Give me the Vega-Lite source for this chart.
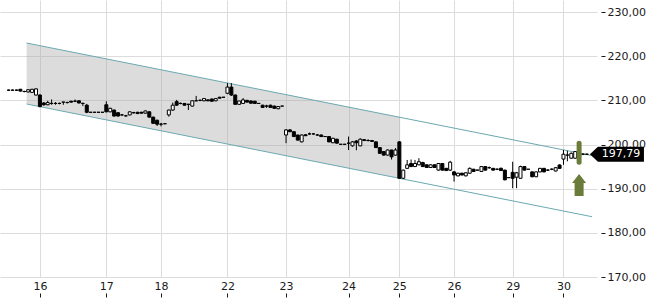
{
  "$schema": "https://vega.github.io/schema/vega-lite/v6.json",
  "width": 597,
  "height": 277,
  "autosize": {"type": "none"},
  "padding": {"left": 0, "top": 0, "right": 53, "bottom": 23},
  "background": "white",
  "config": {"view": {"stroke": null}, "font": "DejaVu Sans"},
  "datasets": {
    "candles": [
      {"i":0,"o":212.3,"h":212.45,"l":212.15,"c":212.3},
      {"i":1,"o":212.3,"h":212.45,"l":212.15,"c":212.3},
      {"i":2,"o":212.3,"h":212.45,"l":212.15,"c":212.3},
      {"i":3,"o":212.5,"h":212.6,"l":212.0,"c":212.1},
      {"i":4,"o":212.0,"h":212.2,"l":211.8,"c":212.0},
      {"i":5,"o":211.9,"h":212.5,"l":211.8,"c":212.4},
      {"i":6,"o":211.8,"h":212.6,"l":211.7,"c":212.5},
      {"i":7,"o":211.2,"h":212.7,"l":211.1,"c":212.6},
      {"i":8,"o":211.2,"h":211.4,"l":208.4,"c":208.6},
      {"i":9,"o":209.4,"h":209.6,"l":208.8,"c":209.0},
      {"i":10,"o":209.0,"h":209.9,"l":208.9,"c":209.5},
      {"i":11,"o":209.3,"h":210.2,"l":209.0,"c":209.3},
      {"i":12,"o":209.3,"h":209.6,"l":209.0,"c":209.3},
      {"i":13,"o":209.3,"h":209.5,"l":209.1,"c":209.3},
      {"i":14,"o":209.6,"h":209.6,"l":209.0,"c":209.6},
      {"i":15,"o":209.5,"h":209.7,"l":209.3,"c":209.5},
      {"i":16,"o":209.8,"h":209.9,"l":209.5,"c":209.6},
      {"i":17,"o":209.8,"h":210.2,"l":209.6,"c":209.8},
      {"i":18,"o":209.9,"h":210.0,"l":209.3,"c":209.4},
      {"i":19,"o":209.3,"h":209.5,"l":208.7,"c":209.3},
      {"i":20,"o":208.9,"h":209.2,"l":207.1,"c":207.3},
      {"i":21,"o":207.3,"h":207.3,"l":207.3,"c":207.3},
      {"i":22,"o":207.3,"h":207.3,"l":207.3,"c":207.3},
      {"i":23,"o":207.3,"h":207.3,"l":207.3,"c":207.3},
      {"i":24,"o":207.3,"h":207.3,"l":207.3,"c":207.3},
      {"i":25,"o":209.0,"h":209.8,"l":207.3,"c":207.4},
      {"i":26,"o":207.4,"h":208.3,"l":207.3,"c":208.2},
      {"i":27,"o":207.8,"h":207.9,"l":206.3,"c":206.45},
      {"i":28,"o":207.2,"h":207.3,"l":206.3,"c":206.45},
      {"i":29,"o":206.7,"h":206.9,"l":206.5,"c":206.7},
      {"i":30,"o":206.5,"h":206.7,"l":206.3,"c":206.5},
      {"i":31,"o":206.7,"h":207.5,"l":206.6,"c":207.4},
      {"i":32,"o":207.2,"h":207.4,"l":207.0,"c":207.2},
      {"i":33,"o":207.3,"h":207.4,"l":206.9,"c":207.0},
      {"i":34,"o":207.3,"h":207.4,"l":207.0,"c":207.1},
      {"i":35,"o":207.1,"h":207.7,"l":207.0,"c":207.6},
      {"i":36,"o":207.4,"h":207.5,"l":206.1,"c":206.2},
      {"i":37,"o":206.2,"h":206.3,"l":204.7,"c":204.8},
      {"i":38,"o":205.5,"h":205.6,"l":204.2,"c":204.6},
      {"i":39,"o":204.6,"h":204.9,"l":204.1,"c":204.6},
      {"i":40,"o":204.7,"h":204.7,"l":204.7,"c":204.7},
      {"i":41,"o":206.7,"h":207.9,"l":206.3,"c":207.8},
      {"i":42,"o":207.8,"h":209.5,"l":207.6,"c":208.9},
      {"i":43,"o":209.7,"h":210.1,"l":208.8,"c":208.9},
      {"i":44,"o":209.3,"h":209.5,"l":209.1,"c":209.3},
      {"i":45,"o":209.3,"h":209.4,"l":208.8,"c":208.9},
      {"i":46,"o":209.1,"h":209.2,"l":207.8,"c":209.1},
      {"i":47,"o":208.7,"h":210.0,"l":208.6,"c":209.9},
      {"i":48,"o":209.9,"h":211.0,"l":209.8,"c":209.9},
      {"i":49,"o":210.0,"h":210.2,"l":209.8,"c":210.0},
      {"i":50,"o":209.9,"h":210.5,"l":209.8,"c":210.4},
      {"i":51,"o":210.1,"h":210.2,"l":209.8,"c":209.9},
      {"i":52,"o":210.3,"h":210.4,"l":209.7,"c":209.8},
      {"i":53,"o":209.9,"h":210.5,"l":209.8,"c":210.4},
      {"i":54,"o":210.7,"h":210.8,"l":210.4,"c":210.5},
      {"i":55,"o":210.7,"h":210.7,"l":210.7,"c":210.7},
      {"i":56,"o":211.6,"h":213.9,"l":211.4,"c":213.0},
      {"i":57,"o":213.0,"h":213.9,"l":211.0,"c":211.2},
      {"i":58,"o":211.2,"h":211.3,"l":209.0,"c":209.1},
      {"i":59,"o":209.1,"h":209.9,"l":209.0,"c":209.85},
      {"i":60,"o":209.3,"h":210.5,"l":209.2,"c":210.1},
      {"i":61,"o":210.0,"h":210.1,"l":209.5,"c":209.6},
      {"i":62,"o":209.85,"h":210.0,"l":209.3,"c":209.35},
      {"i":63,"o":209.8,"h":209.9,"l":209.2,"c":209.3},
      {"i":64,"o":209.3,"h":209.3,"l":209.3,"c":209.3},
      {"i":65,"o":208.9,"h":209.0,"l":208.3,"c":208.4},
      {"i":66,"o":208.7,"h":209.0,"l":208.3,"c":208.7},
      {"i":67,"o":208.9,"h":209.0,"l":208.3,"c":208.4},
      {"i":68,"o":208.7,"h":208.8,"l":208.1,"c":208.2},
      {"i":69,"o":208.1,"h":208.7,"l":208.0,"c":208.6},
      {"i":70,"o":208.7,"h":208.7,"l":208.7,"c":208.7},
      {"i":71,"o":202.15,"h":203.5,"l":200.3,"c":203.3},
      {"i":72,"o":203.3,"h":203.5,"l":202.8,"c":202.9},
      {"i":73,"o":202.9,"h":203.0,"l":201.7,"c":201.8},
      {"i":74,"o":202.15,"h":202.2,"l":200.9,"c":201.0},
      {"i":75,"o":200.6,"h":202.3,"l":200.5,"c":202.15},
      {"i":76,"o":202.2,"h":202.3,"l":201.9,"c":202.0},
      {"i":77,"o":202.4,"h":202.7,"l":202.2,"c":202.4},
      {"i":78,"o":202.4,"h":202.6,"l":202.2,"c":202.4},
      {"i":79,"o":202.15,"h":202.4,"l":202.0,"c":202.15},
      {"i":80,"o":202.15,"h":202.3,"l":201.7,"c":201.8},
      {"i":81,"o":201.8,"h":201.8,"l":201.8,"c":201.8},
      {"i":82,"o":201.8,"h":201.9,"l":200.5,"c":200.6},
      {"i":83,"o":200.4,"h":201.5,"l":200.3,"c":201.4},
      {"i":84,"o":201.2,"h":201.3,"l":200.2,"c":200.3},
      {"i":85,"o":200.05,"h":200.05,"l":200.05,"c":200.05},
      {"i":86,"o":200.05,"h":200.05,"l":200.05,"c":200.05},
      {"i":87,"o":200.3,"h":201.8,"l":198.75,"c":200.3},
      {"i":88,"o":199.7,"h":200.8,"l":199.5,"c":200.6},
      {"i":89,"o":200.8,"h":201.0,"l":198.7,"c":200.4},
      {"i":90,"o":199.7,"h":201.4,"l":199.6,"c":201.2},
      {"i":91,"o":201.1,"h":201.2,"l":200.8,"c":200.9},
      {"i":92,"o":200.9,"h":201.2,"l":200.7,"c":200.9},
      {"i":93,"o":200.9,"h":201.0,"l":200.6,"c":200.7},
      {"i":94,"o":200.6,"h":200.7,"l":199.2,"c":199.3},
      {"i":95,"o":199.3,"h":199.4,"l":197.9,"c":198.0},
      {"i":96,"o":198.4,"h":198.5,"l":197.5,"c":197.6},
      {"i":97,"o":197.6,"h":198.9,"l":197.5,"c":198.75},
      {"i":98,"o":198.75,"h":198.8,"l":196.6,"c":197.2},
      {"i":99,"o":197.6,"h":199.2,"l":197.5,"c":198.75},
      {"i":100,"o":200.6,"h":200.7,"l":192.3,"c":192.35},
      {"i":101,"o":192.35,"h":194.3,"l":192.2,"c":194.2},
      {"i":102,"o":194.6,"h":196.5,"l":194.5,"c":195.4},
      {"i":103,"o":195.7,"h":196.6,"l":194.9,"c":195.0},
      {"i":104,"o":195.0,"h":196.5,"l":194.9,"c":195.7},
      {"i":105,"o":195.4,"h":196.9,"l":195.3,"c":196.1},
      {"i":106,"o":195.9,"h":196.1,"l":194.9,"c":195.0},
      {"i":107,"o":195.4,"h":195.5,"l":194.7,"c":194.8},
      {"i":108,"o":194.8,"h":195.5,"l":194.7,"c":195.4},
      {"i":109,"o":195.4,"h":195.5,"l":194.7,"c":194.8},
      {"i":110,"o":194.2,"h":195.8,"l":194.1,"c":195.7},
      {"i":111,"o":195.7,"h":195.8,"l":194.1,"c":194.2},
      {"i":112,"o":194.6,"h":194.7,"l":194.0,"c":194.1},
      {"i":113,"o":194.2,"h":196.3,"l":194.0,"c":196.0},
      {"i":114,"o":193.8,"h":194.0,"l":191.6,"c":193.1},
      {"i":115,"o":192.9,"h":193.6,"l":192.8,"c":193.5},
      {"i":116,"o":193.5,"h":193.6,"l":193.0,"c":193.1},
      {"i":117,"o":192.9,"h":193.7,"l":192.8,"c":193.6},
      {"i":118,"o":193.5,"h":194.8,"l":193.4,"c":194.6},
      {"i":119,"o":194.4,"h":194.5,"l":193.8,"c":193.9},
      {"i":120,"o":194.2,"h":194.2,"l":194.2,"c":194.2},
      {"i":121,"o":193.9,"h":195.1,"l":193.8,"c":195.0},
      {"i":122,"o":195.0,"h":195.1,"l":194.1,"c":194.2},
      {"i":123,"o":194.75,"h":195.0,"l":194.5,"c":194.75},
      {"i":124,"o":194.6,"h":194.7,"l":194.1,"c":194.2},
      {"i":125,"o":194.4,"h":194.6,"l":194.2,"c":194.4},
      {"i":126,"o":194.6,"h":194.8,"l":194.0,"c":194.1},
      {"i":127,"o":194.2,"h":194.3,"l":191.9,"c":192.0},
      {"i":128,"o":192.5,"h":192.5,"l":192.5,"c":192.5},
      {"i":129,"o":193.7,"h":196.1,"l":190.1,"c":192.35},
      {"i":130,"o":192.6,"h":193.8,"l":190.1,"c":193.6},
      {"i":131,"o":192.35,"h":195.2,"l":192.3,"c":195.0},
      {"i":132,"o":195.0,"h":195.1,"l":194.1,"c":194.2},
      {"i":133,"o":194.4,"h":194.4,"l":194.4,"c":194.4},
      {"i":134,"o":193.8,"h":193.9,"l":192.6,"c":192.7},
      {"i":135,"o":192.7,"h":193.9,"l":192.6,"c":193.8},
      {"i":136,"o":193.8,"h":194.7,"l":193.7,"c":194.6},
      {"i":137,"o":194.6,"h":194.7,"l":193.7,"c":193.8},
      {"i":138,"o":194.2,"h":194.4,"l":194.0,"c":194.2},
      {"i":139,"o":194.4,"h":194.6,"l":194.2,"c":194.4},
      {"i":140,"o":194.0,"h":194.9,"l":193.9,"c":194.75},
      {"i":141,"o":195.36,"h":195.5,"l":194.5,"c":194.6},
      {"i":142,"o":196.7,"h":198.75,"l":195.4,"c":197.8},
      {"i":143,"o":197.6,"h":198.6,"l":196.2,"c":197.6},
      {"i":144,"o":196.9,"h":198.2,"l":196.8,"c":198.0},
      {"i":145,"o":196.9,"h":198.5,"l":196.8,"c":198.4},
      {"i":146,"o":197.2,"h":198.2,"l":197.0,"c":198.0},
      {"i":147,"o":197.8,"h":198.0,"l":197.6,"c":197.8},
      {"i":148,"o":197.79,"h":198.0,"l":197.6,"c":197.79}
    ],
    "channel": [
      {"i":4.6,"up":222.98,"lo":209.17},
      {"i":149.3,"up":197.5,"lo":183.65}
    ],
    "band": [
      {"i":4.6,"up":222.98,"lo":209.17},
      {"i":100.2,"up":206.15,"lo":192.31}
    ],
    "signal": [
      {"i":146,"top":200.3,"bottom":196.0,"arrow":190.83}
    ],
    "last": [
      {"i":148,"price":197.79,"label":"197,79"}
    ]
  },
  "encoding": {
    "x": {
      "type": "quantitative",
      "scale": {"domain": [-0.93, 149.3], "nice": false, "zero": false},
      "axis": {
        "orient": "bottom",
        "title": null,
        "values": [8, 25, 39, 56, 71, 87, 100, 114, 129, 142],
        "labelExpr": "['16','17','18','22','23','24','25','26','29','30'][indexof([8,25,39,56,71,87,100,114,129,142], datum.value)]",
        "domain": false,
        "offset": 16,
        "tickSize": 4,
        "tickColor": "#1a1a1a",
        "labelPadding": -17,
        "labelFontSize": 11,
        "labelColor": "#1a1a1a",
        "grid": true,
        "gridColor": "#dcdcdc",
        "labelFlush": false
      }
    },
    "y": {
      "type": "quantitative",
      "scale": {"domain": [170, 232.72], "nice": false, "zero": false},
      "axis": {
        "orient": "right",
        "title": null,
        "values": [170, 180, 190, 200, 210, 220, 230],
        "labelExpr": "replace(format(datum.value, '.2f'), '.', ',')",
        "domain": false,
        "offset": 4,
        "tickSize": 4,
        "tickColor": "#1a1a1a",
        "labelPadding": 2,
        "labelFontSize": 11,
        "labelColor": "#1a1a1a",
        "grid": true,
        "gridColor": "#dcdcdc"
      }
    }
  },
  "layer": [
    {
      "data": {"name": "band"},
      "mark": {"type": "area", "color": "#a8a8a8", "opacity": 0.4},
      "encoding": {"x": {"field": "i"}, "y": {"field": "up"}, "y2": {"field": "lo"}}
    },
    {
      "data": {"name": "channel"},
      "mark": {"type": "line", "color": "#6aa9b0", "strokeWidth": 1},
      "encoding": {"x": {"field": "i"}, "y": {"field": "up"}}
    },
    {
      "data": {"name": "channel"},
      "mark": {"type": "line", "color": "#6aa9b0", "strokeWidth": 1},
      "encoding": {"x": {"field": "i"}, "y": {"field": "lo"}}
    },
    {
      "data": {"name": "candles"},
      "mark": {"type": "rule", "color": "black", "strokeWidth": 1},
      "encoding": {"x": {"field": "i"}, "y": {"field": "l"}, "y2": {"field": "h"}}
    },
    {
      "data": {"name": "candles"},
      "mark": {"type": "bar", "size": 3, "stroke": "black", "strokeWidth": 1},
      "encoding": {
        "x": {"field": "i"},
        "y": {"field": "o"},
        "y2": {"field": "c"},
        "fill": {"condition": {"test": "datum.c < datum.o", "value": "black"}, "value": "white"}
      }
    },
    {
      "data": {"name": "signal"},
      "mark": {"type": "rule", "color": "#6b7b3a", "strokeWidth": 5, "strokeCap": "round"},
      "encoding": {"x": {"field": "i"}, "y": {"field": "top"}, "y2": {"field": "bottom"}}
    },
    {
      "data": {"name": "signal"},
      "mark": {"type": "point", "filled": true, "color": "#6b7b3a", "opacity": 1, "size": 484,
               "shape": "M0,-1 L0.64,-0.18 L0.41,-0.18 L0.41,1 L-0.41,1 L-0.41,-0.18 L-0.64,-0.18 Z"},
      "encoding": {"x": {"field": "i"}, "y": {"field": "arrow"}}
    },
    {
      "data": {"name": "last"},
      "mark": {"type": "point", "filled": true, "color": "black", "opacity": 1, "size": 3249,
               "shape": "M0.105,0 L0.386,-0.263 L2,-0.263 L2,0.263 L0.386,0.263 Z"},
      "encoding": {"x": {"field": "i"}, "y": {"field": "price"}}
    },
    {
      "data": {"name": "last"},
      "mark": {"type": "text", "color": "white", "fontSize": 11, "align": "center", "baseline": "middle", "dx": 34},
      "encoding": {"x": {"field": "i"}, "y": {"field": "price"}, "text": {"field": "label"}}
    }
  ]
}
